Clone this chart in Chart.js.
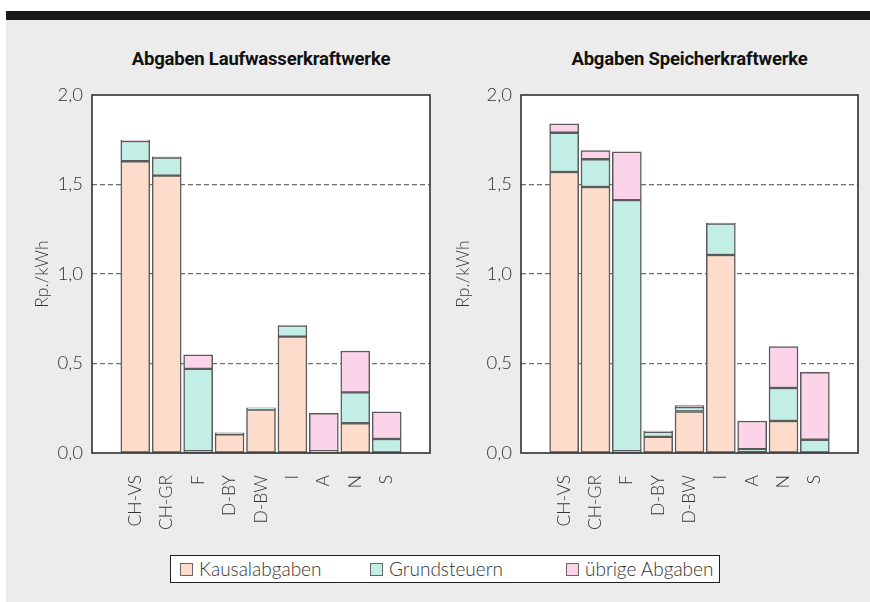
<!DOCTYPE html>
<html>
<head>
<meta charset="utf-8">
<script src="https://cdn.jsdelivr.net/npm/chart.js@4.4.1/dist/chart.umd.min.js"></script>
<style>
  html, body { margin: 0; padding: 0; background: #fff; }
  #page { position: absolute; left: 6px; top: 11px; width: 864px; height: 591px;
          background: #ececec; border-top: 9px solid #1b1b1b; box-sizing: border-box; }
  .chartBox { position: absolute; top: 0; height: 602px; }
  .title { position: absolute; top: 48px; text-align: center; white-space: nowrap;
           font-family: Roboto, sans-serif; font-weight: 700; font-size: 18.5px; color: #111;
           letter-spacing: -0.2px; }
  #legend { position: absolute; left: 170px; top: 555px; width: 550px; height: 28px;
            background: #fff; border: 1.5px solid #222; box-sizing: border-box;
            font-family: Lato, 'Open Sans', sans-serif; font-weight: 300; font-size: 19px; color: #333; }
  .item { position: absolute; top: 1px; white-space: nowrap; }
  .sw { display: inline-block; width: 11px; height: 11px; border: 1px solid #666; margin-right: 6px; vertical-align: 0px; }
</style>
</head>
<body>
<div id="page"></div>
<div class="title" style="left:92px;width:338px">Abgaben Laufwasserkraftwerke</div>
<div class="title" style="left:521px;width:337px">Abgaben Speicherkraftwerke</div>
<div class="chartBox" style="left:0;width:440px"><canvas id="lauf"></canvas></div>
<div class="chartBox" style="left:440px;width:430px"><canvas id="speicher"></canvas></div>
<div id="legend">
  <span class="item" style="left:9px"><span class="sw" style="background:#fddccb"></span>Kausalabgaben</span>
  <span class="item" style="left:199px"><span class="sw" style="background:#c3eee6"></span>Grundsteuern</span>
  <span class="item" style="left:395px"><span class="sw" style="background:#fbd4ea"></span>übrige Abgaben</span>
</div>
<script>
const labels = ['CH-VS', 'CH-GR', 'F', 'D-BY', 'D-BW', 'I', 'A', 'N', 'S'];
const seriesNames = ['Kausalabgaben', 'Grundsteuern', 'übrige Abgaben'];
const yTicks = [0, 0.5, 1, 1.5, 2];

// Laufwasserkraftwerke
const laufKausal = [1.63, 1.55, 0.01, 0.105, 0.243, 0.65, 0.005, 0.166, 0];
const laufGrund = [0.113, 0.1, 0.46, 0.008, 0.01, 0.062, 0.005, 0.173, 0.078];
const laufUebrige = [0.005, 0.005, 0.078, 0, 0, 0, 0.212, 0.231, 0.152];

// Speicherkraftwerke
const speicherKausal = [1.57, 1.486, 0.01, 0.09, 0.232, 1.106, 0.005, 0.179, 0];
const speicherGrund = [0.219, 0.155, 1.403, 0.028, 0.025, 0.175, 0.017, 0.184, 0.074];
const speicherUebrige = [0.05, 0.048, 0.269, 0.005, 0.008, 0.004, 0.157, 0.231, 0.377];

const colors = ['#fddccb', '#c3eee6', '#fbd4ea'];
const lightFont = size => ({ family: 'Lato, "Open Sans", sans-serif', size: size, weight: '300' });

// white plot area with a dark frame
const frame = {
  id: 'frame',
  beforeDraw(chart) {
    const a = chart.chartArea, ctx = chart.ctx;
    ctx.save();
    ctx.fillStyle = '#fff';
    ctx.fillRect(a.left, a.top, a.right - a.left, a.bottom - a.top);
    ctx.restore();
  },
  afterDraw(chart) {
    const a = chart.chartArea, ctx = chart.ctx;
    ctx.save();
    ctx.strokeStyle = '#222';
    ctx.lineWidth = 1.5;
    ctx.strokeRect(a.left, a.top, a.right - a.left, a.bottom - a.top);
    ctx.restore();
  }
};

function makeChart(id, series, yWidth, rightPad, titlePad) {
  return new Chart(document.getElementById(id), {
    type: 'bar',
    data: {
      datasets: series.map((vals, k) => ({
        label: seriesNames[k],
        data: vals.map((v, i) => ({ x: i, y: v })),
        backgroundColor: colors[k],
        borderColor: '#5b5b5b',
        borderWidth: 1.5,
        borderSkipped: false,
        barThickness: 29
      }))
    },
    options: {
      responsive: false,
      animation: false,
      layout: { padding: { left: 0, right: rightPad, top: 95, bottom: 49 } },
      plugins: {
        legend: { display: false },
        tooltip: { enabled: false }
      },
      scales: {
        x: {
          type: 'linear',
          stacked: true,
          min: -0.78,
          max: 8.78,
          grid: { display: false },
          border: { display: false },
          afterBuildTicks: s => { s.ticks = labels.map((_, i) => ({ value: i })); },
          afterFit: s => { s.height = 100; },
          ticks: {
            autoSkip: false,
            minRotation: 90,
            maxRotation: 90,
            padding: 14,
            color: '#333',
            font: lightFont(17.5),
            callback: v => labels[v]
          }
        },
        y: {
          stacked: true,
          min: 0,
          max: 2,
          afterBuildTicks: s => { s.ticks = yTicks.map(v => ({ value: v })); },
          afterFit: s => { s.width = yWidth; },
          border: { display: false, dash: [5, 3] },
          grid: {
            drawTicks: false,
            lineWidth: 1.3,
            color: c => (c.tick && (c.tick.value === 0 || c.tick.value === 2)) ? 'rgba(0,0,0,0)' : '#6f6f6f'
          },
          ticks: {
            padding: 9,
            color: '#333',
            font: lightFont(18.5),
            callback: v => v.toFixed(1).replace('.', ',')
          },
          title: {
            display: true,
            text: 'Rp./kWh',
            color: '#333',
            font: lightFont(17.5),
            padding: { top: titlePad, bottom: 0 }
          }
        }
      }
    },
    plugins: [frame]
  });
}

document.getElementById('lauf').width = 440;
document.getElementById('lauf').height = 602;
document.getElementById('speicher').width = 430;
document.getElementById('speicher').height = 602;

makeChart('lauf', [laufKausal, laufGrund, laufUebrige], 92, 10, 32);
makeChart('speicher', [speicherKausal, speicherGrund, speicherUebrige], 81, 12, 13);
</script>
</body>
</html>
